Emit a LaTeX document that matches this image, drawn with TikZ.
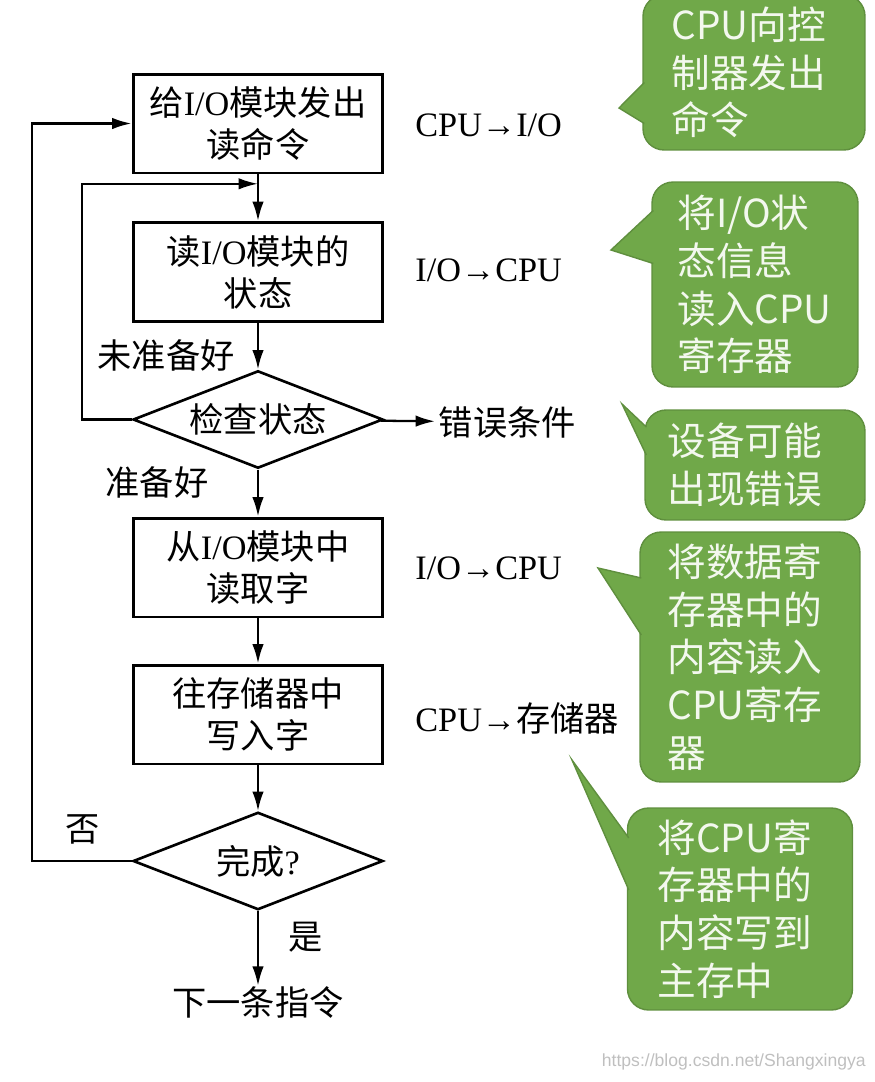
\documentclass[tikz,border=0pt]{standalone}
\usepackage{fontspec}
\setmainfont{Noto Sans CJK SC}
\newfontfamily\latin{Liberation Serif}
\newfontfamily\websans{Liberation Sans}
\usetikzlibrary{arrows.meta,shapes.geometric,calc}
\definecolor{cnote}{HTML}{70A849}
\definecolor{cnoted}{HTML}{5F8F3E}
\definecolor{cnotet}{HTML}{F3F8EE}
\newcommand{\flowfont}{\fontsize{19.5}{23.8}\selectfont}
\newcommand{\notefont}{\fontsize{22}{27.2}\selectfont}

\begin{document}
\begin{tikzpicture}[
  x=0.02cm, y=-0.02cm,
  font=\flowfont,
  box/.style={draw, line width=1.7pt, minimum width=5cm, minimum height=1.98cm,
              align=center, inner sep=0pt},
  test/.style={draw, diamond, line width=1.5pt, minimum width=5cm, minimum height=1.95cm,
               shape aspect=2.6, inner sep=0pt},
  go/.style={-{Latex[length=11pt,width=6.5pt]}, line width=1.3pt},
  lbl/.style={inner sep=0pt},
  note/.style={fill=cnote, draw=cnoted, line width=0.8pt, rounded corners=12pt,
               text=cnotet, font=\notefont, align=left, text width=#1, inner sep=0pt},
  tail/.style={fill=cnote, draw=cnoted, line width=0.8pt, line join=miter},
]
\useasboundingbox (0,0) rectangle (875,1082);

% ------------------------------------------------------------ flow
\node[box] (b1) at (258,123.5) {给{\latin I/O}模块发出\\读命令};
\node[box] (b2) at (258,272) {读{\latin I/O}模块的\\状态};
\node[test] (d1) at (258,419.5) {检查状态};
\node[box] (b3) at (258,567.5) {从{\latin I/O}模块中\\读取字};
\node[box] (b4) at (258,714.5) {往存储器中\\写入字};
\node[test] (d2) at (258,861) {完成{\latin ?}};
\node[lbl] (next) at (258,1002) {下一条指令};
\node[lbl, anchor=west, inner sep=2pt] (err) at (435,422) {错误条件};

\draw[go] (b1) -- (b2);
\draw[go] (b2) -- (d1);
\draw[go] (d1) -- (err);
\draw[go] (d1) -- (b3);
\draw[go] (b3) -- (b4);
\draw[go] (b4) -- (d2);
\draw[go] (d2) -- (next);

% loops back
\coordinate (j1) at ($(b1.south)!0.2!(b2.north)$);
\draw[go] (d1.west) -- ++(-50,0) |- (j1);
\draw[go] (d2.west) -- ++(-100,0) |- (b1.west);

% ------------------------------------------------------------ labels
\node[lbl] (nready) at (166,355) {未准备好};
\node[lbl] (ready) at (157,482) {准备好};
\node[lbl] (no) at (83,829) {否};
\node[lbl] (yes) at (306,937) {是};

\node[lbl, anchor=west] (t1) at (415,125) {\latin CPU→I/O};
\node[lbl, anchor=west] (t2) at (415,270) {\latin I/O→CPU};
\node[lbl, anchor=west] (t3) at (415,568) {\latin I/O→CPU};
\node[lbl, anchor=west] (t4) at (415,718) {{\latin CPU→}存储器};

% ------------------------------------------------------------ notes
\node[note=3.3cm, minimum width=4.44cm, minimum height=3.1cm] (c1) at (754,72.5)
  {CPU向控\\制器发出\\命令};
\coordinate (p1) at (619,108);
\draw[tail] ($(c1.west)+(2,10)$) -- (p1) -- ($(c1.west)+(2,51)$);

\node[note=3.1cm, minimum width=4.12cm, minimum height=4.1cm] (c2) at (755,284.5)
  {将I/O状\\态信息\\读入CPU\\寄存器};
\coordinate (p2) at (611,250);
\draw[tail] ($(c2.west)+(2,-74)$) -- (p2) -- ($(c2.west)+(2,-21)$);

\node[note=3.5cm, minimum width=4.4cm, minimum height=2.2cm] (c3) at (755,465)
  {设备可能\\出现错误};
\coordinate (p3) at (622,404);
\draw[tail] ($(c3.west)+(2,-38)$) -- (p3) -- ($(c3.west)+(2,-10)$);

\node[note=3.3cm, minimum width=4.4cm, minimum height=5cm] (c4) at (750,657)
  {将数据寄\\存器中的\\内容读入\\CPU寄存\\器};
\coordinate (p4) at (598,568);
\draw[tail] ($(c4.west)+(2,-79)$) -- (p4) -- ($(c4.west)+(2,-22)$);

\node[note=3.3cm, minimum width=4.5cm, minimum height=4.04cm] (c5) at (740,909)
  {将CPU寄\\存器中的\\内容写到\\主存中};
\coordinate (p5) at (572,760);
\draw[tail] ($(c5.west)+(2,-71)$) -- (p5) -- ($(c5.west)+(2,-19)$);

\node[lbl, anchor=east, text=black!25, font=\websans\fontsize{10}{12}\selectfont] (wm)
  at (866,1062) {https://blog.csdn.net/Shangxingya};
\end{tikzpicture}
\end{document}
